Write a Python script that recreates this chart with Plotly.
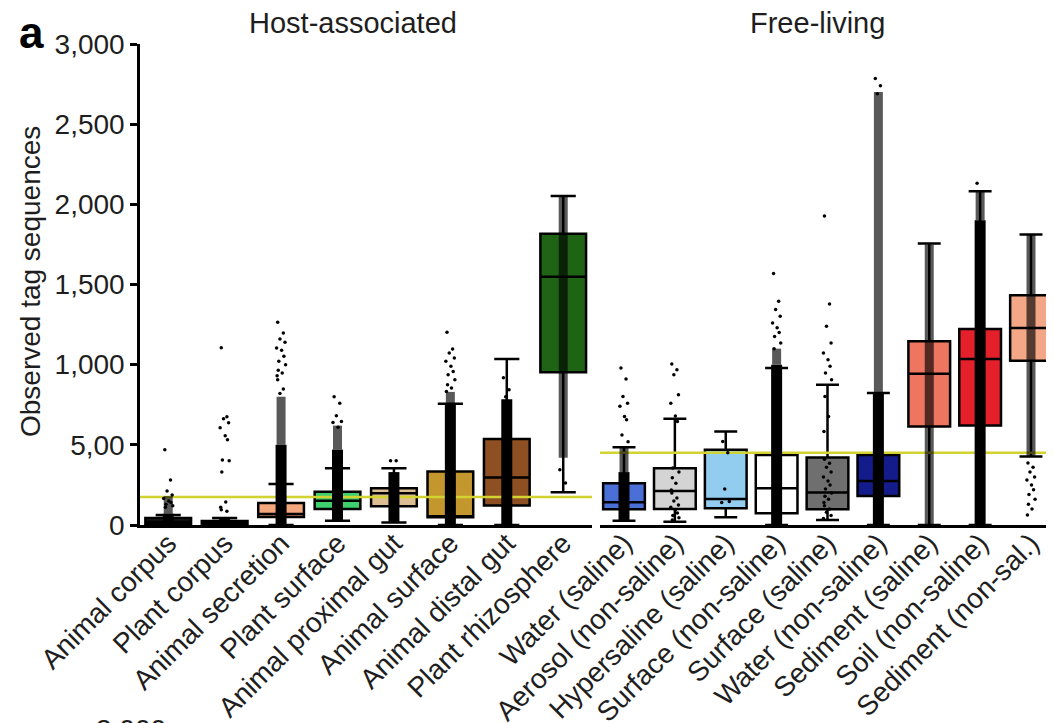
import plotly.graph_objects as go

# ---------------- data ----------------
host_cats = ["Animal corpus", "Plant corpus", "Animal secretion", "Plant surface",
             "Animal proximal gut", "Animal surface", "Animal distal gut", "Plant rhizosphere"]
host_q1 = [6, 3, 50, 100, 117, 48, 122, 952]
host_med = [20, 12, 68, 152, 198, 55, 296, 1548]
host_q3 = [44, 25, 137, 208, 229, 333, 536, 1817]
host_lo = [0, 0, 0, 27, 15, 0, 0, 204]
host_hi = [62, 44, 256, 354, 354, 756, 1035, 2052]
host_colors = ["#1a1a1a", "#1a1a1a", "#F4A67C", "#3FD06E", "#DDBE95", "#C4962E", "#8E4F22", "#1F6414"]
host_dense_lo = [0, 0, 0, 25, 20, 0, 0, None]
host_dense_hi = [70, 40, 500, 470, 330, 760, 785, None]
host_med_lo = [70, None, 500, 470, None, 760, None, 420]
host_med_hi = [180, None, 800, 620, None, 830, None, 2050]
host_sparse = [
    [469, 281, 212, 187, 165, 150, 140, 130, 120, 110],
    [1106, 675, 662, 637, 606, 556, 531, 406, 400, 331, 144, 110, 95, 85],
    [1265, 1198, 1160, 1140, 1104, 1090, 1052, 1021, 1000, 965, 948, 931, 906, 848, 820],
    [800, 760, 681, 646, 640, 610],
    [400, 400],
    [1202, 1098, 1073, 1042, 1021, 990, 958, 937, 906, 875, 854, 833],
    [918, 844, 800],
    [344, 262],
]
host_threshold = 175

free_cats = ["Water (saline)", "Aerosol (non-saline)", "Hypersaline (saline)", "Surface (non-saline)",
             "Surface (saline)", "Water (non-saline)", "Sediment (saline)", "Soil (non-saline)",
             "Sediment (non-sal.)"]
free_q1 = [98, 100, 104, 73, 98, 181, 615, 621, 1025]
free_med = [142, 212, 162, 229, 202, 275, 944, 1035, 1229]
free_q3 = [260, 354, 469, 437, 421, 437, 1146, 1223, 1433]
free_lo = [27, 21, 48, 0, 31, 0, 0, 0, 427]
free_hi = [485, 662, 583, 979, 875, 823, 1756, 2081, 1812]
free_colors = ["#4A6FD6", "#D4D4D4", "#92CDF0", "#FFFFFF", "#6F6F6F", "#141B8A", "#EE7661", "#E4202A", "#F3A787"]
free_dense_lo = [20, None, None, 0, None, 0, None, 0, None]
free_dense_hi = [330, None, None, 1000, None, 830, None, 1900, None]
free_med_lo = [330, None, None, 1000, None, 830, 0, 1900, 430]
free_med_hi = [490, None, None, 1100, None, 2700, 1750, 2080, 1812]
free_sparse = [
    [979, 910, 802, 760, 740, 677, 656, 562, 520],
    [1004, 969, 937, 812, 760, 680, 645, 356, 330, 294, 260, 219, 200, 169, 150, 125, 110, 94, 75, 60, 45, 31],
    [521, 450, 225, 146, 140],
    [1569, 1396, 1344, 1302, 1260, 1230, 1200, 1175, 1135, 1100],
    [1927, 1379, 1240, 1135, 1073, 1031, 990, 948, 906, 802, 677, 583, 410, 385, 360, 330, 300,
     275, 250, 225, 200, 180, 160, 140, 120, 100, 80, 60, 40],
    [2785, 2740, 2690],
    [],
    [2131],
    [387, 360, 330, 300, 280, 250, 220, 190, 160, 130, 100, 62],
]
free_threshold = 450

y_tickvals = [0, 500, 1000, 1500, 2000, 2500, 3000]
y_ticktext = ["0", "5,00", "1,000", "1,500", "2,000", "2,500", "3,000"]

# ---------------- styling ----------------
W, H = 1054, 723
OFF = 8  # page body margin: figure starts 8px in from the window corner
FONT = "Liberation Sans, Arial, Helvetica, sans-serif"
TXT = "#1e1e1e"
FS = 28
jitter = [-0.06, 0.04, -0.02, 0.07, -0.08, 0.01, 0.05, -0.04, 0.08, -0.05, 0.02, -0.07]


def px_x(p):
    return (p - OFF) / W


def px_y(p):
    return 1 - (p - OFF) / H


fig = go.Figure()


def add_group(cats, q1, med, q3, lo, hi, colors, dlo, dhi, mlo, mhi, sparse, thr, xa, ya, xr, bw):
    for i in range(len(cats)):
        fig.add_trace(go.Box(
            x=[i], q1=[q1[i]], median=[med[i]], q3=[q3[i]],
            lowerfence=[lo[i]], upperfence=[hi[i]],
            width=bw, fillcolor=colors[i], line=dict(color="black", width=2.5),
            whiskerwidth=0.55, boxpoints=False, showlegend=False, hoverinfo="skip",
            xaxis=xa, yaxis=ya))
    fig.add_trace(go.Scatter(x=list(xr), y=[thr, thr], mode="lines",
                             line=dict(color="#D2D230", width=2.5),
                             showlegend=False, hoverinfo="skip", xaxis=xa, yaxis=ya))
    mx, my = [], []
    for i in range(len(cats)):
        if mlo[i] is not None:
            mx += [i, i, None]
            my += [mlo[i], mhi[i], None]
    fig.add_trace(go.Scatter(x=mx, y=my, mode="lines",
                             line=dict(color="rgba(0,0,0,0.65)", width=9),
                             showlegend=False, hoverinfo="skip", xaxis=xa, yaxis=ya))
    dx, dy = [], []
    for i in range(len(cats)):
        if dlo[i] is not None:
            dx += [i, i, None]
            dy += [dlo[i], dhi[i], None]
    fig.add_trace(go.Scatter(x=dx, y=dy, mode="lines",
                             line=dict(color="black", width=11),
                             showlegend=False, hoverinfo="skip", xaxis=xa, yaxis=ya))
    px, py = [], []
    for i, vals in enumerate(sparse):
        for k, v in enumerate(vals):
            px.append(i + jitter[k % len(jitter)])
            py.append(v)
    fig.add_trace(go.Scatter(x=px, y=py, mode="markers",
                             marker=dict(color="black", size=3.5),
                             showlegend=False, hoverinfo="skip", xaxis=xa, yaxis=ya))


host_range = [-0.5, 7.51]
free_range = [-0.4717, 8.452]

add_group(host_cats, host_q1, host_med, host_q3, host_lo, host_hi, host_colors,
          host_dense_lo, host_dense_hi, host_med_lo, host_med_hi, host_sparse,
          host_threshold, "x", "y", host_range, 0.81)
add_group(free_cats, free_q1, free_med, free_q3, free_lo, free_hi, free_colors,
          free_dense_lo, free_dense_hi, free_med_lo, free_med_hi, free_sparse,
          free_threshold, "x2", "y2", free_range, 0.82)

ydom = [px_y(525), px_y(44)]
xaxis_common = dict(showline=True, linecolor="black", linewidth=2.5, ticks="",
                    showgrid=False, zeroline=False, tickangle=-45, automargin=False,
                    ticklabelstandoff=-12,
                    tickfont=dict(size=FS, color=TXT, family=FONT))


def ann(text, x, y, size, angle=0, yanchor="middle", color=TXT):
    return dict(text=text, x=px_x(x), y=px_y(y), xref="paper", yref="paper",
                xanchor="center", yanchor=yanchor, textangle=angle, showarrow=False,
                font=dict(size=size, color=color, family=FONT))


fig.update_layout(
    width=W, height=H,
    margin=dict(l=0, r=0, t=0, b=0, pad=0),
    paper_bgcolor="white", plot_bgcolor="white",
    boxmode="overlay",
    font=dict(family=FONT, color=TXT),
    xaxis=dict(domain=[px_x(140), px_x(592)], range=host_range, anchor="y",
               tickvals=list(range(len(host_cats))), ticktext=host_cats, **xaxis_common),
    xaxis2=dict(domain=[px_x(600), px_x(1054)], range=free_range, anchor="y2",
                tickvals=list(range(len(free_cats))), ticktext=free_cats, **xaxis_common),
    yaxis=dict(domain=ydom, range=[0, 3000], anchor="x", automargin=False,
               tickvals=y_tickvals, ticktext=y_ticktext,
               showline=True, linecolor="black", linewidth=2.5,
               ticks="outside", ticklen=7, tickwidth=2.5, tickcolor="black",
               showgrid=False, zeroline=False,
               tickfont=dict(size=FS, color=TXT, family=FONT)),
    yaxis2=dict(domain=ydom, range=[0, 3000], anchor="x2", matches="y", automargin=False,
                showline=False, showticklabels=False, ticks="",
                showgrid=False, zeroline=False),
    annotations=[
        ann("Host-associated", 353, 23, 29),
        ann("Free-living", 817, 23, 29),
        ann("<b>a</b>", 31, 33, 44, color="black"),
        ann("Observed tag sequences", 30, 282, FS, angle=-90),
        ann("3,000", 131, 712, FS, yanchor="top"),
    ],
)

fig.write_html("out.html")
